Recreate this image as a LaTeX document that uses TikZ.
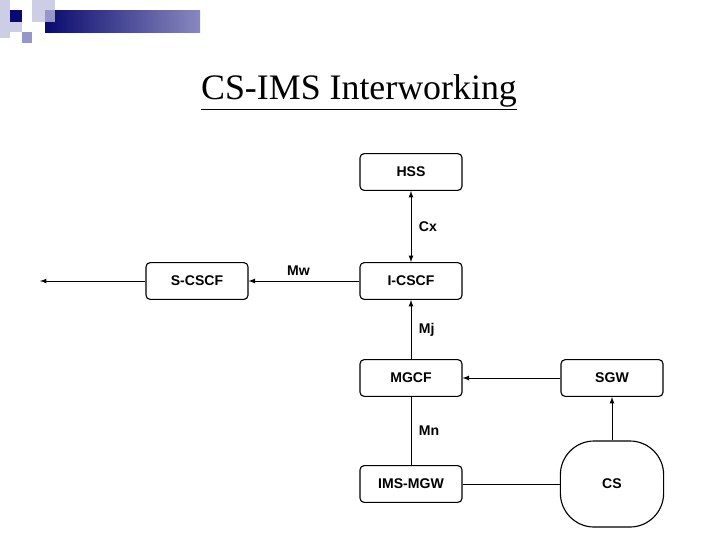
\documentclass[tikz,border=0pt]{standalone}
\usepackage{fontspec}
\setmainfont{Liberation Serif}
\newfontfamily\boxfont{Liberation Sans}
\usetikzlibrary{arrows}
\usetikzlibrary{calc}
\definecolor{navy}{RGB}{10,10,110}
\definecolor{lightnavy}{RGB}{150,150,200}
\definecolor{palenavy}{RGB}{205,205,230}
\begin{document}
\begin{tikzpicture}[x=0.025cm,y=-0.025cm,
  box/.style={draw,thick,rounded corners=3pt,minimum width=2.55cm,minimum height=0.92cm,font=\boxfont\bfseries},
  lbl/.style={font=\boxfont\bfseries},
  link/.style={semithick,>=latex}]
  \useasboundingbox (0,0) rectangle (720,540);
  % header decoration
  \shade[left color=navy,right color=lightnavy!90!navy] (45,10) rectangle (200,32);
  \fill[palenavy] (0,0) rectangle (10,38);
  \fill[palenavy] (32,0) rectangle (55,10);
  \fill[navy] (10,10) rectangle (22,22);
  \fill[palenavy] (32,10) rectangle (45,22);
  \fill[lightnavy] (45,10) rectangle (55,22);
  \fill[lightnavy] (22,32) rectangle (32,43);
  \fill[palenavy] (10,22) rectangle (22,32);
  \node[font=\fontsize{25.5}{30}\selectfont] (title) at (359,92) {\underline{CS-IMS Interworking}};
  % network elements
  \node[box] (hss) at (411,172) {HSS};
  \node[box] (icscf) at (411,281) {I-CSCF};
  \node[box] (scscf) at (197,281) {S-CSCF};
  \node[box] (mgcf) at (411,378) {MGCF};
  \node[box] (sgw) at (612,378) {SGW};
  \node[box] (imsmgw) at (411,484) {IMS-MGW};
  \node[draw,thick,rounded corners=24pt,minimum width=2.58cm,minimum height=2.15cm,font=\boxfont\bfseries] (cs) at (612,484) {CS};
  \coordinate (out) at (40,281);
  % interfaces
  \draw[link,<->] (hss) -- (icscf) node[midway,right=2pt,lbl] {Cx};
  \draw[link,->] (icscf) -- (scscf) node[midway,above=0pt,lbl,xshift=-4pt] {Mw};
  \draw[link,->] (scscf) -- (out);
  \draw[link,->] (mgcf) -- (icscf) node[midway,right=2pt,lbl] {Mj};
  \draw[link] (mgcf) -- (imsmgw) node[midway,right=2pt,lbl] {Mn};
  \draw[link,->] (sgw) -- (mgcf);
  \draw[link,->] (cs) -- (sgw);
  \draw[link] (imsmgw) -- (cs);
\end{tikzpicture}
\end{document}
